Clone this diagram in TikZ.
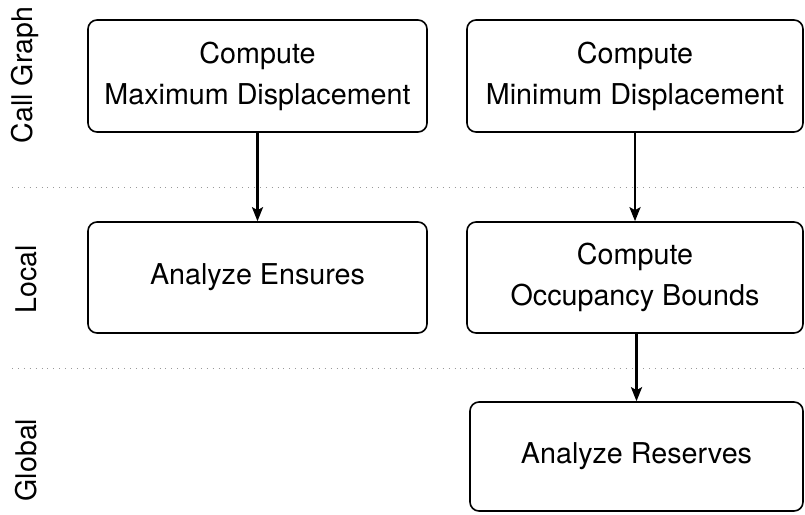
\documentclass[tikz,border=0pt]{standalone}
\usepackage{fontspec}
\setmainfont{TeX Gyre Heros}
\usetikzlibrary{arrows.meta}
\tikzset{
  stage/.style={draw, line width=1.6pt, rounded corners=9pt, align=center,
    inner sep=0pt, font=\fontsize{28.7}{41}\selectfont},
  flow/.style={line width=2.6pt, -{Stealth[length=14pt,width=11pt,inset=3pt]}},
  layer/.style={rotate=90, font=\fontsize{28.5}{32}\selectfont},
  sep/.style={gray!80, line width=0.9pt, dash pattern=on 0.9pt off 5pt}
}
\begin{document}
\begin{tikzpicture}[x=1pt,y=-1pt]
		%%%%% START %%%%%
		\useasboundingbox (0, 0) rectangle (805, 514);
		
		% layer separators
		\draw[sep] (12, 187) -- (805, 187);
		\draw[sep] (12, 368) -- (805, 368);
		
		% layer names
		\node[layer] (callgraph) at (25, 75) {Call Graph};
		\node[layer] (local) at (26, 279) {Local};
		\node[layer] (global) at (26, 460) {Global};
		
		% stages
		\node[stage, minimum width=339pt, minimum height=112pt] (maxdisp) at (257.5, 76) {Compute\\Maximum Displacement};
		\node[stage, minimum width=336pt, minimum height=112pt] (mindisp) at (635, 76) {Compute\\Minimum Displacement};
		\node[stage, minimum width=339pt, minimum height=111pt] (ensures) at (257.5, 277.5) {Analyze Ensures};
		\node[stage, minimum width=336pt, minimum height=111pt] (occupancy) at (635, 277.5) {Compute\\Occupancy Bounds};
		\node[stage, minimum width=333pt, minimum height=109pt] (reserves) at (636.5, 456.5) {Analyze Reserves};
		
		\draw[flow] (maxdisp) -- (ensures);
		\draw[flow] (mindisp) -- (occupancy);
		\draw[flow] (occupancy.south -| reserves.north) -- (reserves);
		
		%%%%% END %%%%%
	\end{tikzpicture}
\end{document}
